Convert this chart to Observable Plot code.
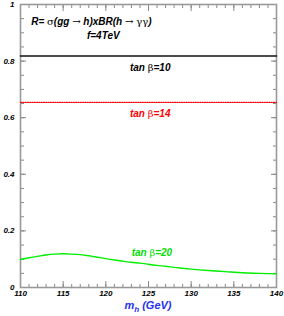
<!DOCTYPE html>
<html><head><meta charset="utf-8">
<script src="https://cdn.jsdelivr.net/npm/d3@7"></script>
<script src="https://cdn.jsdelivr.net/npm/@observablehq/plot@0.6"></script>
<style>body{margin:0;background:#fff}</style>
</head><body><div id="chart"></div>
<script>
// Data
const mh = [110,111,112,113,114,115,116,117,118,119,120,121,122,123,124,125,126,127,128,129,130,132,134,136,138,140];
const rTan20 = [0.099,0.105,0.110,0.115,0.118,0.119,0.118,0.116,0.112,0.107,0.102,0.097,0.093,0.089,0.086,0.082,0.078,0.075,0.071,0.068,0.065,0.060,0.056,0.052,0.050,0.048];
const mhFlat = [110,140];
const rTan10 = [0.818,0.818];
const rTan14 = [0.654,0.654];
const xMajor = [110,115,120,125,130,135,140];
const xMajorLabels = ["110","115","120","125","130","135","140"];
const xMinor = [110,111,112,113,114,115,116,117,118,119,120,121,122,123,124,125,126,127,128,129,130,131,132,133,134,135,136,137,138,139,140];
const yMajor = [0,0.2,0.4,0.6,0.8,1];
const yMajorLabels = ["0","0.2","0.4","0.6","0.8","1"];
const yMinor = [0,0.05,0.1,0.15,0.2,0.25,0.3,0.35,0.4,0.45,0.5,0.55,0.6,0.65,0.7,0.75,0.8,0.85,0.9,0.95,1];

const font = "Liberation Sans, Arial, sans-serif";
const tickCol = "#888";
const lab = {fontWeight:"bold", fontStyle:"italic", fontFamily: font};

const chart = Plot.plot({
  width: 284, height: 316,
  marginLeft: 20, marginRight: 8, marginTop: 4, marginBottom: 29,
  x: {domain: [110,140]},
  y: {domain: [0,1]},
  style: {fontFamily: font, background: "#fff"},
  marks: [
    // minor ticks
    Plot.axisX(xMinor, {anchor:"bottom", tickSize:3, dy:-3, stroke:tickCol, text:null, label:null}),
    Plot.axisX(xMinor, {anchor:"top", tickSize:3, dy:3, stroke:tickCol, text:null, label:null}),
    Plot.axisY(yMinor, {anchor:"left", tickSize:4, dx:4, stroke:tickCol, text:null, label:null}),
    Plot.axisY(yMinor, {anchor:"right", tickSize:4, dx:-4, stroke:tickCol, text:null, label:null}),
    // major ticks
    Plot.axisX(xMajor, {anchor:"bottom", tickSize:6, dy:-6, stroke:tickCol, text:null, label:null}),
    Plot.axisX(xMajor, {anchor:"top", tickSize:6, dy:6, stroke:tickCol, text:null, label:null}),
    Plot.axisY(yMajor, {anchor:"left", tickSize:6, dx:6, stroke:tickCol, text:null, label:null}),
    Plot.axisY(yMajor, {anchor:"right", tickSize:6, dx:-6, stroke:tickCol, text:null, label:null}),
    // tick labels
    Plot.axisX(xMajor, {anchor:"bottom", tickSize:0, tickPadding:3, tickFormat:(d,i)=>xMajorLabels[i], fontSize:8, ...lab, fill:"#000", label:null}),
    Plot.axisY(yMajor, {anchor:"left", tickSize:0, tickPadding:6, tickFormat:(d,i)=>yMajorLabels[i], fontSize:8, ...lab, fill:"#000", label:null}),
    Plot.frame({stroke:"#999", strokeWidth:1.6}),
    // curves
    Plot.line(mhFlat, {x:d=>d, y:(d,i)=>rTan10[i], stroke:"#111", strokeWidth:1.6}),
    Plot.line(mhFlat, {x:d=>d, y:(d,i)=>rTan14[i], stroke:"#ff0000", strokeWidth:1.2, strokeDasharray:"1,1.3"}),
    Plot.line(mh, {x:d=>d, y:(d,i)=>rTan20[i], stroke:"#00ee00", strokeWidth:1.4, curve:"monotone-x"}),
    // annotations
    Plot.text(["R= σ(gg → h)xBR(h → γγ)"], {x:118.3, y:0.94, text:d=>d, fontSize:10, ...lab, fill:"#000"}),
    Plot.text(["f=4TeV"], {x:119.7, y:0.888, text:d=>d, fontSize:10, ...lab, fill:"#000"}),
    Plot.text(["tan β=10"], {x:125.2, y:0.776, text:d=>d, fontSize:10, ...lab, fill:"#000"}),
    Plot.text(["tan β=14"], {x:125.2, y:0.614, text:d=>d, fontSize:10, ...lab, fill:"#ff0000"}),
    Plot.text(["tan β=20"], {x:125.4, y:0.122, text:d=>d, fontSize:10, ...lab, fill:"#00dd00"})
  ]
});

// x label
const svg = d3.select(chart);
svg.append("text")
  .attr("x", 148).attr("y", 309)
  .attr("text-anchor","middle")
  .attr("fill","#2233ee")
  .attr("font-family", font).attr("font-weight","bold").attr("font-style","italic")
  .attr("font-size", 11)
  .call(t => {
    t.append("tspan").text("m");
    t.append("tspan").attr("font-size",8).attr("dy",3).text("h");
    t.append("tspan").attr("dy",-3).text(" (GeV)");
  });

// symbol glyphs in normal weight, symbol-like font
svg.selectAll("text").each(function(){
  const el = d3.select(this);
  const txt = this.textContent;
  if (/[σβγ→]/.test(txt)) {
    const target = this.querySelector("tspan") ? d3.select(this.querySelector("tspan")) : el;
    const parts = txt.split(/([σβγ→]+)/);
    target.text(null);
    parts.forEach(p => {
      if (!p) return;
      const s = target.append("tspan").text(p);
      if (/[σβγ→]/.test(p)) s.attr("font-weight","normal").attr("font-style","normal").attr("font-family","DejaVu Serif, serif");
    });
  }
});

document.getElementById("chart").append(chart);
</script>
</body></html>
